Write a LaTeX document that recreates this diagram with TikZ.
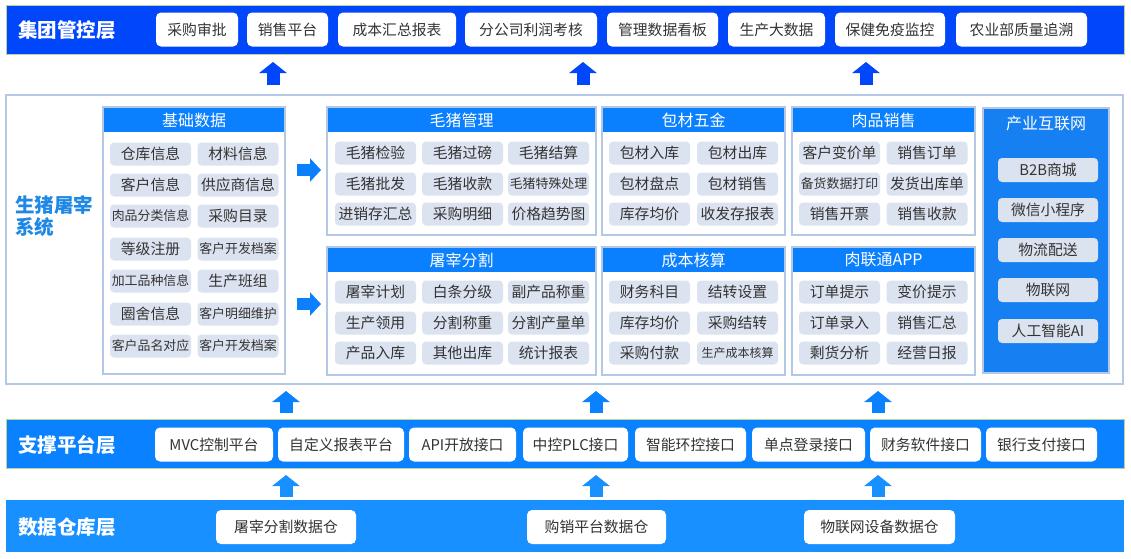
\documentclass[tikz,border=0pt]{standalone}
\usepackage{fontspec}
\setmainfont{Noto Sans CJK SC}
\usetikzlibrary{arrows.meta}
\definecolor{topblue}{HTML}{0046FA}
\definecolor{midblue}{HTML}{0A80FF}
\definecolor{iotblue}{HTML}{167FF2}
\definecolor{supblue}{HTML}{0A82FF}
\definecolor{datblue}{HTML}{1890FF}
\definecolor{panelline}{HTML}{B4C8E6}
\definecolor{itemgray}{HTML}{DCE3F0}
\definecolor{txtgray}{HTML}{333333}
\definecolor{sysblue}{HTML}{1E88E5}
\definecolor{bandline}{HTML}{B8D49C}
\tikzset{
  band/.style={inner sep=0pt, minimum width=1118pt},
  ttl/.style={text=white, font=\fontsize{19.5}{22}\selectfont\bfseries, anchor=west, inner sep=0pt},
  wbox/.style={fill=white, rounded corners=5pt, text=txtgray, font=\fontsize{14.8}{17}\selectfont, inner sep=0pt, minimum height=34pt},
  gitem/.style={fill=itemgray, rounded corners=4pt, text=txtgray, font=\fontsize{14.8}{17}\selectfont, inner sep=0pt, minimum width=81pt, minimum height=23pt},
  sm/.style={font=\fontsize{12.9}{15}\selectfont},
  xs/.style={font=\fontsize{12}{14}\selectfont},
  panel/.style={draw=panelline, line width=1.5pt, fill=white, inner sep=0pt},
  hdr/.style={fill=midblue, text=white, font=\fontsize{16}{18}\selectfont, inner sep=0pt, minimum height=24pt, anchor=north},
  blockup/.style={draw=#1, line width=13pt, -{Triangle[width=27pt,length=11pt]}},
  blockright/.style={draw=#1, line width=12pt, -{Triangle[width=23pt,length=11pt]}},
}
\begin{document}
\begin{tikzpicture}[x=1pt,y=-1pt]
\useasboundingbox (0,0) rectangle (1131,558);
\fill[white] (0,0) rectangle (1131,558);

% ---------------- top layer
\node[band, fill=topblue, draw=bandline, line width=0.6pt, minimum height=49pt] (topband) at (565,29.5) {};
\node[ttl] (toptitle) at (18,30) {集团管控层};
\node[wbox, minimum width=82pt]  (t1) at (197,29.5)   {采购审批};
\node[wbox, minimum width=81pt]  (t2) at (287.5,29.5) {销售平台};
\node[wbox, minimum width=118pt] (t3) at (397,29.5)   {成本汇总报表};
\node[wbox, minimum width=132pt] (t4) at (531,29.5)   {分公司利润考核};
\node[wbox, minimum width=111pt] (t5) at (662.5,29.5) {管理数据看板};
\node[wbox, minimum width=97pt]  (t6) at (776.5,29.5) {生产大数据};
\node[wbox, minimum width=110pt] (t7) at (890,29.5)   {保健免疫监控};
\node[wbox, minimum width=131pt] (t8) at (1021.5,29.5){农业部质量追溯};

\coordinate (ua1s) at (273,85); \coordinate (ua1e) at (273,62);
\coordinate (ua2s) at (583,85); \coordinate (ua2e) at (583,62);
\coordinate (ua3s) at (866,85); \coordinate (ua3e) at (866,62);
\draw[blockup=topblue] (ua1s) -- (ua1e);
\draw[blockup=topblue] (ua2s) -- (ua2e);
\draw[blockup=topblue] (ua3s) -- (ua3e);

% ---------------- middle system
\node[draw=panelline, line width=2pt, inner sep=0pt, minimum width=1117pt, minimum height=289pt] (sys) at (564.5,239.5) {};
\node[text=sysblue, font=\fontsize{19.5}{21.5}\selectfont\bfseries, align=left, anchor=west, inner sep=0pt] (systitle) at (15,216) {生猪屠宰\\系统};

% basic data panel
\node[panel, minimum width=182pt, minimum height=267pt] (pjc) at (194,240.5) {};
\node[hdr, minimum width=180.5pt] (hjc) at (194,107.75) {基础数据};
\node[gitem] (j11) at (150.5,154) {仓库信息};
\node[gitem] (j12) at (238,154)   {材料信息};
\node[gitem] (j21) at (150.5,185) {客户信息};
\node[gitem] (j22) at (238,185)   {供应商信息};
\node[gitem,sm] (j31) at (150.5,216) {肉品分类信息};
\node[gitem] (j32) at (238,216)   {采购目录};
\node[gitem] (j41) at (150.5,249) {等级注册};
\node[gitem,sm] (j42) at (238,249) {客户开发档案};
\node[gitem,sm] (j51) at (150.5,281) {加工品种信息};
\node[gitem] (j52) at (238,281)   {生产班组};
\node[gitem] (j61) at (150.5,314) {圈舍信息};
\node[gitem,sm] (j62) at (238,314) {客户明细维护};
\node[gitem,sm] (j71) at (150.5,346) {客户品名对应};
\node[gitem,sm] (j72) at (238,346) {客户开发档案};

\coordinate (ra1s) at (297,170); \coordinate (ra1e) at (321,170);
\coordinate (ra2s) at (297,304); \coordinate (ra2e) at (321,304);
\draw[blockright=midblue] (ra1s) -- (ra1e);
\draw[blockright=midblue] (ra2s) -- (ra2e);

% 毛猪管理
\node[panel, minimum width=269pt, minimum height=128pt] (pmz) at (461.5,171) {};
\node[hdr, minimum width=267.5pt] (hmz) at (461.5,107.75) {毛猪管理};
\node[gitem] (m11) at (375.5,153) {毛猪检验};
\node[gitem] (m12) at (462.5,153) {毛猪过磅};
\node[gitem] (m13) at (548.5,153) {毛猪结算};
\node[gitem] (m21) at (375.5,184) {毛猪批发};
\node[gitem] (m22) at (462.5,184) {毛猪收款};
\node[gitem,sm] (m23) at (548.5,184) {毛猪特殊处理};
\node[gitem] (m31) at (375.5,214) {进销存汇总};
\node[gitem] (m32) at (462.5,214) {采购明细};
\node[gitem] (m33) at (548.5,214) {价格趋势图};

% 屠宰分割
\node[panel, minimum width=269pt, minimum height=128pt] (ptz) at (461.5,311) {};
\node[hdr, minimum width=267.5pt] (htz) at (461.5,247.75) {屠宰分割};
\node[gitem] (s11) at (375.5,292) {屠宰计划};
\node[gitem] (s12) at (462.5,292) {白条分级};
\node[gitem] (s13) at (548.5,292) {副产品称重};
\node[gitem] (s21) at (375.5,323) {生产领用};
\node[gitem] (s22) at (462.5,323) {分割称重};
\node[gitem] (s23) at (548.5,323) {分割产量单};
\node[gitem] (s31) at (375.5,353) {产品入库};
\node[gitem] (s32) at (462.5,353) {其他出库};
\node[gitem] (s33) at (548.5,353) {统计报表};

% 包材五金
\node[panel, minimum width=183pt, minimum height=128pt] (pbc) at (693.5,171) {};
\node[hdr, minimum width=181.5pt] (hbc) at (693.5,107.75) {包材五金};
\node[gitem] (b11) at (649.5,153) {包材入库};
\node[gitem] (b12) at (737.5,153) {包材出库};
\node[gitem] (b21) at (649.5,184) {包材盘点};
\node[gitem] (b22) at (737.5,184) {包材销售};
\node[gitem] (b31) at (649.5,214) {库存均价};
\node[gitem] (b32) at (737.5,214) {收发存报表};

% 成本核算
\node[panel, minimum width=183pt, minimum height=128pt] (pcb) at (693.5,311) {};
\node[hdr, minimum width=181.5pt] (hcb) at (693.5,247.75) {成本核算};
\node[gitem] (c11) at (649.5,292) {财务科目};
\node[gitem] (c12) at (737.5,292) {结转设置};
\node[gitem] (c21) at (649.5,323) {库存均价};
\node[gitem] (c22) at (737.5,323) {采购结转};
\node[gitem] (c31) at (649.5,353) {采购付款};
\node[gitem,xs] (c32) at (737.5,353) {生产成本核算};

% 肉品销售
\node[panel, minimum width=183pt, minimum height=128pt] (prp) at (883.5,171) {};
\node[hdr, minimum width=181.5pt] (hrp) at (883.5,107.75) {肉品销售};
\node[gitem] (r11) at (839.5,153) {客户变价单};
\node[gitem] (r12) at (927,153)   {销售订单};
\node[gitem,sm] (r21) at (839.5,184) {备货数据打印};
\node[gitem] (r22) at (927,184)   {发货出库单};
\node[gitem] (r31) at (839.5,214) {销售开票};
\node[gitem] (r32) at (927,214)   {销售收款};

% 肉联通APP
\node[panel, minimum width=183pt, minimum height=128pt] (pap) at (883.5,311) {};
\node[hdr, minimum width=181.5pt] (hap) at (883.5,247.75) {肉联通APP};
\node[gitem] (a11) at (839.5,292) {订单提示};
\node[gitem] (a12) at (927,292)   {变价提示};
\node[gitem] (a21) at (839.5,323) {订单录入};
\node[gitem] (a22) at (927,323)   {销售汇总};
\node[gitem] (a31) at (839.5,353) {剩货分析};
\node[gitem] (a32) at (927,353)   {经营日报};

% 产业互联网
\node[draw=panelline, line width=1.5pt, fill=iotblue, inner sep=0pt, minimum width=126pt, minimum height=265pt] (piot) at (1046,240.5) {};
\node[text=white, font=\fontsize{16}{18}\selectfont, inner sep=0pt] (hiot) at (1046,123) {产业互联网};
\node[gitem, minimum width=100pt, minimum height=24pt] (i1) at (1048,170) {B2B商城};
\node[gitem, minimum width=100pt, minimum height=24pt] (i2) at (1048,210) {微信小程序};
\node[gitem, minimum width=100pt, minimum height=24pt] (i3) at (1048,250) {物流配送};
\node[gitem, minimum width=100pt, minimum height=24pt] (i4) at (1048,290) {物联网};
\node[gitem, minimum width=100pt, minimum height=24pt] (i5) at (1048,331) {人工智能AI};

% ---------------- support layer
\coordinate (ma1s) at (286,413); \coordinate (ma1e) at (286,391);
\coordinate (ma2s) at (596,413); \coordinate (ma2e) at (596,391);
\coordinate (ma3s) at (878,413); \coordinate (ma3e) at (878,391);
\draw[blockup=supblue] (ma1s) -- (ma1e);
\draw[blockup=supblue] (ma2s) -- (ma2e);
\draw[blockup=supblue] (ma3s) -- (ma3e);

\node[band, fill=supblue, draw=bandline, line width=0.6pt, minimum height=49pt] (supband) at (565,443.5) {};
\node[ttl] (suptitle) at (18,445) {支撑平台层};
\node[wbox, minimum width=118pt] (p1) at (214,444.5)    {MVC控制平台};
\node[wbox, minimum width=126pt] (p2) at (341,444.5)    {自定义报表平台};
\node[wbox, minimum width=107pt] (p3) at (462.5,444.5)  {API开放接口};
\node[wbox, minimum width=105pt] (p4) at (575.5,444.5)  {中控PLC接口};
\node[wbox, minimum width=111pt] (p5) at (690.5,444.5)  {智能环控接口};
\node[wbox, minimum width=113pt] (p6) at (808.5,444.5)  {单点登录接口};
\node[wbox, minimum width=111pt] (p7) at (925.5,444.5)  {财务软件接口};
\node[wbox, minimum width=111pt] (p8) at (1041.5,444.5) {银行支付接口};

% ---------------- data layer
\coordinate (da1s) at (286,497); \coordinate (da1e) at (286,475);
\coordinate (da2s) at (596,497); \coordinate (da2e) at (596,475);
\coordinate (da3s) at (878,497); \coordinate (da3e) at (878,475);
\draw[blockup=datblue] (da1s) -- (da1e);
\draw[blockup=datblue] (da2s) -- (da2e);
\draw[blockup=datblue] (da3s) -- (da3e);

\node[band, fill=datblue, minimum height=52pt] (datband) at (565,526) {};
\node[ttl] (dattitle) at (18,527) {数据仓库层};
\node[wbox, minimum width=140pt] (d1) at (286,527)   {屠宰分割数据仓};
\node[wbox, minimum width=139pt] (d2) at (596.5,527) {购销平台数据仓};
\node[wbox, minimum width=151pt] (d3) at (879.5,527) {物联网设备数据仓};
\end{tikzpicture}
\end{document}
